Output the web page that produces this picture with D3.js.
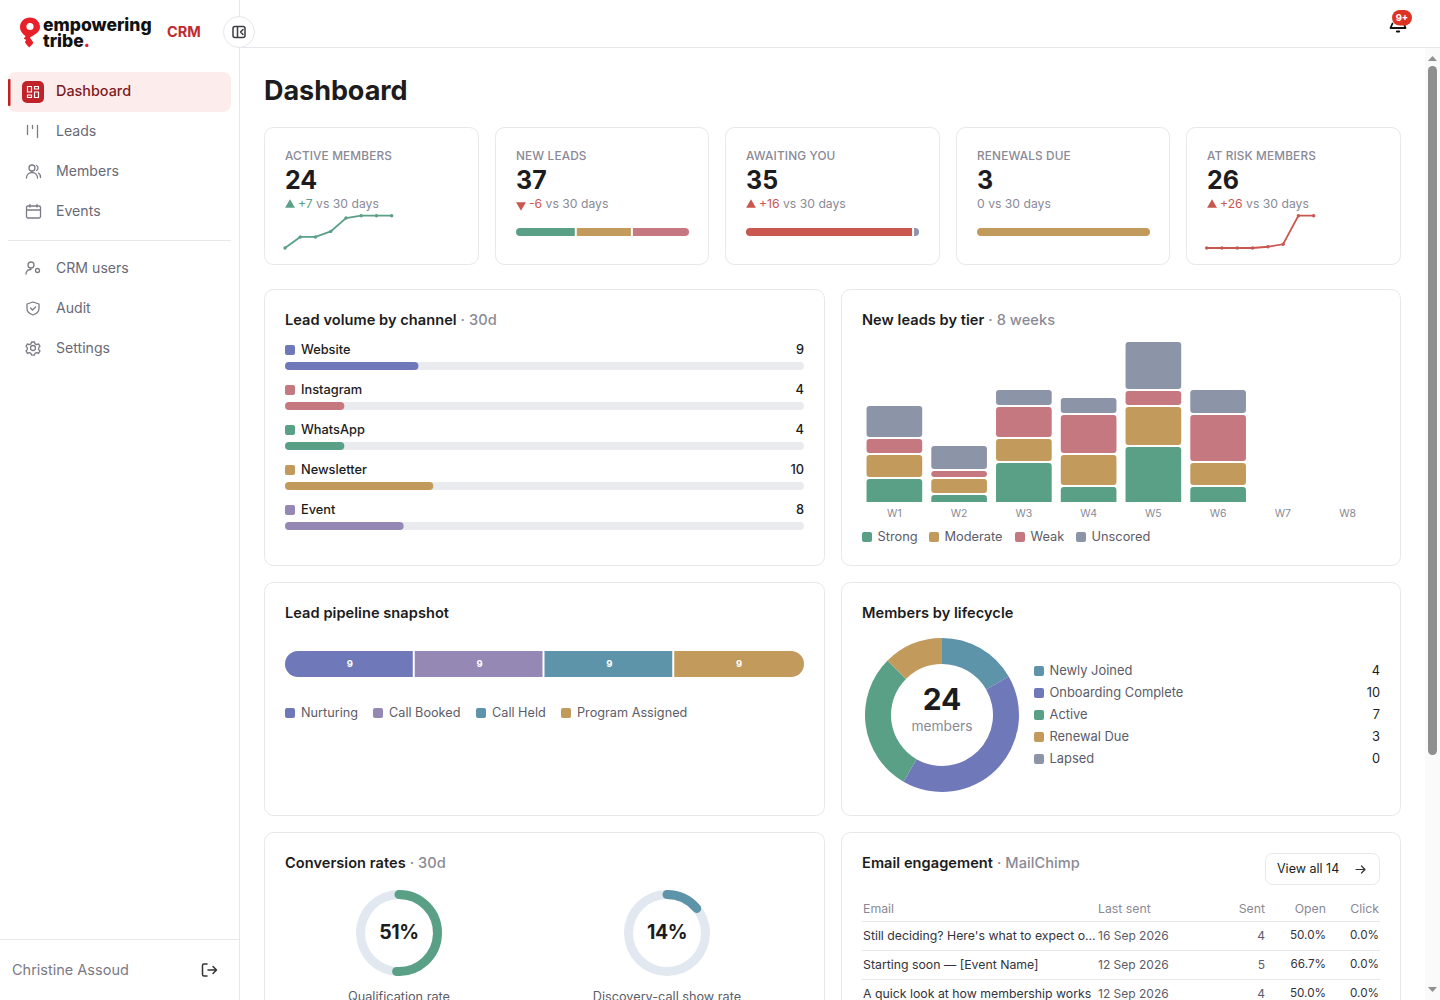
<!DOCTYPE html>
<html>
<head>
<meta charset="utf-8">
<title>Dashboard</title>
<script src="https://cdn.jsdelivr.net/npm/d3@7/dist/d3.min.js"></script>
<style>
  html, body { margin: 0; padding: 0; background: #fff; overflow: hidden; }
  svg { display: block; font-family: Inter, "Open Sans", sans-serif; }
  text { dominant-baseline: central; }
</style>
</head>
<body>
<svg id="page" width="1440" height="1000"></svg>
<script>
var green = '#5aa086', gold = '#c29a5c', rose = '#c67880', slate = '#8c95a8',
  indigo = '#6f78b8', violet = '#9688b5', teal = '#5e94aa', red = '#c9564f',
  ink = '#1c1c20', grey = '#8a8a96', body = '#5c5c68', line = '#e6e8ec';

// kpi cards
var kpiTitles = ['ACTIVE MEMBERS', 'NEW LEADS', 'AWAITING YOU', 'RENEWALS DUE', 'AT RISK MEMBERS'];
var kpiValues = [24, 37, 35, 3, 26];
var kpiDeltas = ['+7', '-6', '+16', '0', '+26'];
var activeSpark = [17, 19.4, 19.4, 20.6, 23.5, 24, 24, 24];
var riskSpark = [0, 0, 0, 0, 1, 3, 26, 26];
var newLeadSplit = [13, 12, 12];
var awaitingSplit = [34, 1];
var renewalSplit = [3];

// lead volume
var channels = ['Website', 'Instagram', 'WhatsApp', 'Newsletter', 'Event'];
var channelValues = [9, 4, 4, 10, 8];

// new leads by tier
var weeks = ['W1', 'W2', 'W3', 'W4', 'W5', 'W6', 'W7', 'W8'];
var tiers = ['Strong', 'Moderate', 'Weak', 'Unscored'];
var strong = [3, 1, 5, 2, 7, 2, 0, 0];
var moderate = [3, 2, 3, 4, 5, 3, 0, 0];
var weak = [2, 1, 4, 5, 2, 6, 0, 0];
var unscored = [4, 3, 2, 2, 6, 3, 0, 0];

// pipeline
var stages = ['Nurturing', 'Call Booked', 'Call Held', 'Program Assigned'];
var stageValues = [9, 9, 9, 9];

// lifecycle
var lifecycle = ['Newly Joined', 'Onboarding Complete', 'Active', 'Renewal Due', 'Lapsed'];
var lifecycleValues = [4, 10, 7, 3, 0];

// conversion
var rateNames = ['Qualification rate', 'Discovery-call show rate'];
var rateValues = [51, 14];

// email table
var emailNames = ["Still deciding? Here's what to expect o…", 'Starting soon — [Event Name]', 'A quick look at how membership works'];
var emailDates = ['16 Sep 2026', '12 Sep 2026', '12 Sep 2026'];
var emailSent = [4, 5, 4];
var emailOpen = ['50.0%', '66.7%', '50.0%'];
var emailClick = ['0.0%', '0.0%', '0.0%'];

var svg = d3.select('#page');
var defs = svg.append('defs');
var clipCount = 0;

// y is the visual middle of the line, Inter sits a pixel low with central baseline
function txt(x, y, s, size, fill, weight, anchor) {
  return svg.append('text')
    .attr('x', x).attr('y', y - 1)
    .attr('font-size', size)
    .attr('fill', fill)
    .attr('font-weight', weight || 400)
    .attr('text-anchor', anchor || 'start')
    .text(s);
}

function card(x, y, w, h) {
  svg.append('rect')
    .attr('x', x + 0.5).attr('y', y + 0.5)
    .attr('width', w - 1).attr('height', h - 1)
    .attr('rx', 9)
    .attr('fill', '#fff')
    .attr('stroke', line);
}

function swatch(x, y, color) {
  svg.append('rect')
    .attr('x', x).attr('y', y - 5)
    .attr('width', 10).attr('height', 10)
    .attr('rx', 2)
    .attr('fill', color);
}

function cardTitle(x, y, main, sub) {
  var t = txt(x, y + 1, main, 14.6, ink, 600).attr('letter-spacing', 0.04);
  if (sub) {
    t.append('tspan').attr('fill', grey).attr('font-weight', 500).text(' · ' + sub);
  }
}

function icon(d, stroke, width) {
  return svg.append('path')
    .attr('d', d)
    .attr('fill', 'none')
    .attr('stroke', stroke)
    .attr('stroke-width', width || 1.3)
    .attr('stroke-linecap', 'round')
    .attr('stroke-linejoin', 'round');
}

// horizontal bar made of parts, rounded at the two ends
function splitBar(x0, x1, y, h, values, colors, labels) {
  var sum = d3.sum(values);
  var x = d3.scaleLinear().domain([0, sum]).range([x0, x1]);
  var id = 'clip' + (clipCount++);
  defs.append('clipPath').attr('id', id).append('rect')
    .attr('x', x0).attr('y', y).attr('width', x1 - x0).attr('height', h).attr('rx', h / 2 > 4 ? h / 2 : 4);
  var g = svg.append('g').attr('clip-path', 'url(#' + id + ')');
  var total = 0;
  values.forEach(function(v, i) {
    var from = x(total), to = x(total + v);
    total += v;
    g.append('rect')
      .attr('x', from).attr('y', y)
      .attr('width', to - from - (i < values.length - 1 ? 2 : 0)).attr('height', h)
      .attr('fill', colors[i]);
    if (labels) {
      txt((from + to) / 2, y + h / 2, v, 9.5, '#fff', 700, 'middle');
    }
  });
}

function spark(x0, x1, values, color) {
  var x = d3.scaleLinear().domain([0, values.length - 1]).range([x0, x1]);
  var y = d3.scaleLinear().domain(d3.extent(values)).range([248, 215.7]);
  var l = d3.line().x(function(d, i) { return x(i); }).y(function(d) { return y(d); });
  svg.append('path').attr('d', l(values)).attr('fill', 'none').attr('stroke', color).attr('stroke-width', 1.8);
  svg.selectAll(null).data(values).enter().append('circle')
    .attr('cx', function(d, i) { return x(i); })
    .attr('cy', function(d) { return y(d); })
    .attr('r', 1.7)
    .attr('fill', color);
}

/* ---------- frame ---------- */
svg.append('rect').attr('x', 239).attr('y', 0).attr('width', 1).attr('height', 1000).attr('fill', line);
svg.append('rect').attr('x', 240).attr('y', 47).attr('width', 1200).attr('height', 1).attr('fill', line);
svg.append('rect').attr('x', 0).attr('y', 939).attr('width', 239).attr('height', 1).attr('fill', line);
svg.append('rect').attr('x', 8).attr('y', 240).attr('width', 223).attr('height', 1).attr('fill', line);

// logo
svg.append('path')
  .attr('d', 'M30 17.5c-5.6 0-10 4.200-10 9.500 0 4.200 2.900 6.900 5.600 9.200l-1.800 2.300 2.300 1.500-1.200 2.200c1.300 2.200 3.200 3.800 4.300 5.300 1.500-1.800 3.400-3 4.100-5.100l-3.400-4.900c4.500-2.700 10.100-5.300 10.100-10.500 0-5.300-4.400-9.500-10-9.500z')
  .attr('fill', '#e8202a');
svg.append('circle').attr('cx', 30).attr('cy', 26.500).attr('r', 3.600).attr('fill', '#fff');
var logoText = svg.append('text').attr('y', 24).attr('font-size', 17.500).attr('font-weight', 800).attr('fill', '#111');
logoText.append('tspan').attr('x', 43).text('empowering');
logoText.append('tspan').attr('x', 43).attr('dy', 15.500).text('tribe');
logoText.append('tspan').attr('fill', '#e8202a').text('.');
txt(167, 32, 'CRM', 14.500, '#bf2b30', 700);

// collapse button
svg.append('circle').attr('cx', 239).attr('cy', 32).attr('r', 15.500).attr('fill', '#fff').attr('stroke', line);
icon('M235 26.500h8a2 2 0 0 1 2 2v7a2 2 0 0 1-2 2h-8a2 2 0 0 1-2-2v-7a2 2 0 0 1 2-2zM237.500 26.500v11M243 29.500l-2.500 2.500 2.500 2.500', '#3c3c44', 1.500);

// bell
icon('M1392.500 23.500l-2 4.500h15l-1.500-4M1396.800 31.500h2.400', '#111', 1.800);
svg.append('rect').attr('x', 1392).attr('y', 10).attr('width', 20).attr('height', 15.500).attr('rx', 7.700).attr('fill', '#dc3323');
txt(1402, 18, '9+', 9.500, '#fff', 700, 'middle');

// sidebar
svg.append('rect').attr('x', 8).attr('y', 72).attr('width', 223).attr('height', 40).attr('rx', 8).attr('fill', '#fdecec');
svg.append('rect').attr('x', 8).attr('y', 79).attr('width', 2.500).attr('height', 27).attr('rx', 1).attr('fill', '#c2201f');
svg.append('rect').attr('x', 22).attr('y', 81).attr('width', 22).attr('height', 22).attr('rx', 5).attr('fill', '#c0242a');
icon('M27.500 86.500h4v5.500h-4zM34.500 86.500h4v2.500h-4zM34.500 92h4v5.500h-4zM27.500 95h4v2.500h-4z', '#fff', 1.200);
txt(56, 91, 'Dashboard', 14.400, '#7e1a1e', 500);

var navNames = ['Leads', 'Members', 'Events', 'CRM users', 'Audit', 'Settings'];
var navY = [131, 171, 211, 268, 308, 348];
navNames.forEach(function(n, i) {
  txt(56, navY[i], n, 14.100, '#6a6a76', 400);
});
var navGrey = '#7b7b86';
icon('M27.500 125.500v9M32.500 125.500v3M37.500 125.500v12', navGrey);
icon('M26.500 178c0-3.500 2.500-5.500 5.500-5.500s5.500 2 5.500 5.500M32 171a3 3 0 1 0 0-6 3 3 0 0 0 0 6zM36.500 165.500a2.800 2.800 0 0 1 0 5M38.500 173c1.200.8 2 2.500 2 4.500', navGrey);
icon('M28 206h11a1.500 1.500 0 0 1 1.500 1.500v9a1.500 1.500 0 0 1-1.500 1.500h-11a1.500 1.500 0 0 1-1.500-1.500v-9a1.500 1.500 0 0 1 1.500-1.500zM26.500 210h14M30 204.500v2.500M37 204.500v2.500', navGrey);
icon('M26 274c0-3 2.500-4.500 5-4.500M31 268a3 3 0 1 0 0-6 3 3 0 0 0 0 6zM37.500 272.500a2 2 0 1 0 0-4 2 2 0 0 0 0 4z', navGrey);
icon('M33 302l6 2v4.500c0 3.500-3 5.500-6 6.500-3-1-6-3-6-6.500V304zM30.500 308l2 2 3-3', navGrey);
icon('M33 345.500a2.500 2.500 0 1 0 0 5 2.500 2.500 0 0 0 0-5zM31.500 342h3l.5 1.800 1.800.8 1.700-.8 1.500 2.500-1.300 1.300v2l1.300 1.300-1.500 2.500-1.700-.8-1.800.8-.5 1.800h-3l-.5-1.800-1.800-.8-1.700.8-1.500-2.500 1.300-1.300v-2l-1.300-1.300 1.500-2.500 1.700.8 1.800-.8z', navGrey);

txt(12, 970, 'Christine Assoud', 14.500, '#7a7a84', 400);
icon('M207 964h-3a1.500 1.500 0 0 0-1.500 1.500v9a1.500 1.500 0 0 0 1.500 1.500h3M208 970h8M213 966.500l3.500 3.500-3.500 3.500', '#333', 1.500);

txt(264, 91, 'Dashboard', 27, ink, 700).attr('letter-spacing', -0.05);

/* ---------- kpi row ---------- */
var kpiX = [264, 495, 725, 956, 1186];
var kpiW = [215, 214, 215, 214, 215];
var kpiUp = [green, red, red, null, red];
kpiTitles.forEach(function(t, i) {
  var x = kpiX[i] + 21;
  card(kpiX[i], 127, kpiW[i], 138);
  txt(x, 157, t, 11.800, grey, 500).attr('letter-spacing', 0.15);
  txt(x, 181, kpiValues[i], 25, ink, 700);
  var dx = x;
  if (kpiUp[i]) {
    var down = kpiDeltas[i][0] === '-';
    svg.append('path')
      .attr('d', d3.symbol(d3.symbolTriangle, 42)())
      .attr('transform', 'translate(' + (x + 5) + ',205)' + (down ? ' rotate(180)' : ''))
      .attr('fill', kpiUp[i]);
    dx = x + 13;
  }
  var d = txt(dx, 204, kpiDeltas[i], 12.200, kpiUp[i] || grey, 400);
  d.append('tspan').attr('fill', grey).text(' vs 30 days');
});
spark(285, 391.700, activeSpark, green);
spark(1206.700, 1313.700, riskSpark, red);
splitBar(516, 689, 228, 8, newLeadSplit, [green, gold, rose]);
splitBar(746, 919, 228, 8, awaitingSplit, [red, slate]);
splitBar(977, 1150, 228, 8, renewalSplit, [gold]);

/* ---------- lead volume ---------- */
card(264, 289, 561, 277);
cardTitle(285, 320, 'Lead volume by channel', '30d');
var channelColors = [indigo, rose, green, gold, violet];
var channelX = d3.scaleLinear().domain([0, d3.sum(channelValues)]).range([285, 804]);
channels.forEach(function(c, i) {
  var y = 350 + i * 40;
  swatch(285, y, channelColors[i]);
  txt(301, y, c, 12.800, ink, 500);
  txt(804, y, channelValues[i], 12.800, ink, 500, 'end');
  svg.append('rect').attr('x', 285).attr('y', y + 12).attr('width', 519).attr('height', 8).attr('rx', 4).attr('fill', '#e9ebef');
  svg.append('rect').attr('x', 285).attr('y', y + 12)
    .attr('width', channelX(channelValues[i]) - channelX(0)).attr('height', 8).attr('rx', 4)
    .attr('fill', channelColors[i]);
});

/* ---------- new leads by tier ---------- */
card(841, 289, 560, 277);
cardTitle(862, 320, 'New leads by tier', '8 weeks');
var tierColors = [green, gold, rose, slate];
var x = d3.scaleBand().domain(weeks).range([862, 1380]).paddingInner(0.14).paddingOuter(0.07);
var y = d3.scaleLinear().domain([0, 20]).range([502, 342]);
var rows = weeks.map(function(w, i) {
  return { week: w, Strong: strong[i], Moderate: moderate[i], Weak: weak[i], Unscored: unscored[i] };
});
var stacked = d3.stack().keys(tiers)(rows);
defs.append('clipPath').attr('id', 'stackClip').append('rect')
  .attr('x', 862).attr('y', 330).attr('width', 518).attr('height', 172);
// 1px gap either side of a join, the top segment keeps its full top edge
svg.append('g').attr('clip-path', 'url(#stackClip)')
  .selectAll('g').data(stacked).enter().append('g')
  .attr('fill', function(d, i) { return tierColors[i]; })
  .selectAll('rect').data(function(d) { return d.map(function(p) { return { p: p, bottom: d.index === 0, top: d.index === 3 }; }); })
  .enter().append('rect')
  .attr('x', function(d) { return x(d.p.data.week); })
  .attr('width', x.bandwidth())
  .attr('y', function(d) { return y(d.p[1]) + (d.top ? 0 : 1); })
  .attr('height', function(d) {
    if (d.p[1] === d.p[0]) return 0;
    return y(d.p[0]) - y(d.p[1]) + (d.bottom ? 4 : d.top ? -1 : -2);
  })
  .attr('rx', 3);
var xAxis = svg.append('g').attr('transform', 'translate(0,502)')
  .call(d3.axisBottom(x).tickSize(0).tickPadding(8));
xAxis.select('.domain').remove();
xAxis.selectAll('text')
  .attr('font-family', 'Inter, sans-serif')
  .attr('font-size', 10.500)
  .attr('fill', grey)
  .attr('dy', '0.3em');
var tierSwatch = [862, 929, 1015, 1076];
tiers.forEach(function(t, i) {
  swatch(tierSwatch[i], 537, tierColors[i]);
  txt(tierSwatch[i] + 15.500, 537, t, 12.800, body, 400);
});

/* ---------- pipeline ---------- */
card(264, 582, 561, 234);
cardTitle(285, 613, 'Lead pipeline snapshot');
var stageColors = [indigo, violet, teal, gold];
splitBar(285, 804, 651, 26, stageValues, stageColors, true);
var stageSwatch = [285, 373, 476, 561];
stages.forEach(function(s, i) {
  swatch(stageSwatch[i], 713, stageColors[i]);
  txt(stageSwatch[i] + 16, 713, s, 12.700, body, 400);
});

/* ---------- lifecycle ---------- */
card(841, 582, 560, 234);
cardTitle(862, 613, 'Members by lifecycle');
var lifeColors = [teal, indigo, green, gold, slate];
var pie = d3.pie().sort(null);
var donut = d3.arc().innerRadius(51).outerRadius(77);
svg.append('g').attr('transform', 'translate(942,715)')
  .selectAll('path').data(pie(lifecycleValues)).enter().append('path')
  .attr('d', donut)
  .attr('fill', function(d, i) { return lifeColors[i]; });
txt(942, 700, d3.sum(lifecycleValues), 30, ink, 700, 'middle');
txt(942, 727, 'members', 13.800, grey, 400, 'middle');
lifecycle.forEach(function(l, i) {
  var ly = 671 + i * 22;
  swatch(1034, ly, lifeColors[i]);
  txt(1049.500, ly, l, 12.900, body, 400);
  txt(1380, ly, lifecycleValues[i], 12.800, ink, 400, 'end');
});

/* ---------- conversion rates ---------- */
card(264, 832, 561, 240);
cardTitle(285, 863, 'Conversion rates', '30d');
var rateX = [399, 667];
var rateColors = [green, teal];
var turn = d3.scaleLinear().domain([0, 100]).range([-Math.PI / 2, 1.5 * Math.PI]);
var track = d3.arc().innerRadius(34).outerRadius(43);
rateNames.forEach(function(n, i) {
  var g = svg.append('g').attr('transform', 'translate(' + rateX[i] + ',933)');
  g.append('path').attr('d', track({ startAngle: 0, endAngle: 2 * Math.PI })).attr('fill', '#e2e8f0');
  // open path so the round caps show
  var sweep = d3.path();
  sweep.arc(0, 0, 38.500, turn(0), turn(rateValues[i]));
  g.append('path')
    .attr('d', sweep.toString())
    .attr('fill', 'none')
    .attr('stroke', rateColors[i])
    .attr('stroke-width', 9)
    .attr('stroke-linecap', 'round');
  txt(rateX[i], 933, rateValues[i] + '%', 19.500, ink, 700, 'middle').attr('letter-spacing', -0.4);
  txt(rateX[i], 997, n, 12.700, body, 400, 'middle');
});

/* ---------- email table ---------- */
card(841, 832, 560, 240);
cardTitle(862, 863, 'Email engagement', 'MailChimp');
svg.append('rect').attr('x', 1265.500).attr('y', 853.500).attr('width', 114).attr('height', 31).attr('rx', 7).attr('fill', '#fff').attr('stroke', line);
txt(1277, 869, 'View all 14', 12.500, ink, 400);
icon('M1356 869.500h9M1361.500 866l3.500 3.500-3.500 3.500', '#333', 1.200);

var headX = [863, 1098, 1265, 1326, 1379];
var headAnchor = ['start', 'start', 'end', 'end', 'end'];
['Email', 'Last sent', 'Sent', 'Open', 'Click'].forEach(function(h, i) {
  txt(headX[i], 909, h, 12.300, grey, 400, headAnchor[i]);
});
svg.append('rect').attr('x', 862).attr('y', 921).attr('width', 518).attr('height', 1).attr('fill', line);
emailNames.forEach(function(n, i) {
  var ry = 936 + i * 29;
  txt(863, ry, n, 12.300, '#33333c', 400);
  txt(1098, ry, emailDates[i], 12, body, 400);
  txt(1265, ry, emailSent[i], 12, body, 400, 'end');
  txt(1326, ry, emailOpen[i], 11.700, '#33333c', 400, 'end');
  txt(1379, ry, emailClick[i], 11.700, '#33333c', 400, 'end');
  svg.append('rect').attr('x', 862).attr('y', ry + 14).attr('width', 518).attr('height', 1).attr('fill', line);
});

/* ---------- scrollbar ---------- */
svg.append('rect').attr('x', 1425).attr('y', 48).attr('width', 15).attr('height', 952).attr('fill', '#fafafa');
svg.append('rect').attr('x', 1428).attr('y', 66).attr('width', 9).attr('height', 689).attr('rx', 4.500).attr('fill', '#8f8f8f');
svg.append('path').attr('d', 'M1428 61l4.500-5 4.500 5z').attr('fill', '#8f8f8f');
svg.append('path').attr('d', 'M1428 987l4.500 5 4.500-5z').attr('fill', '#8f8f8f');
</script>
</body>
</html>
